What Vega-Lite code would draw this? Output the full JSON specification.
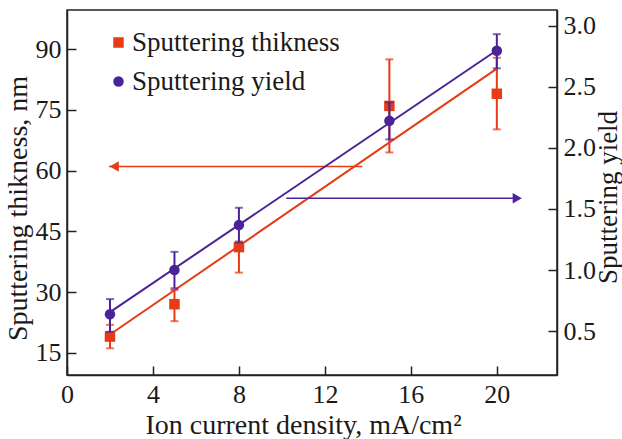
{
  "$schema": "https://vega.github.io/schema/vega-lite/v6.json",
  "width": 490,
  "height": 365,
  "autosize": {"type": "none"},
  "padding": {"left": 67, "top": 10, "right": 65, "bottom": 64},
  "background": "white",
  "datasets": {
    "pts": [
      {"x": 2, "thick": 19.0, "thick_lo": 16.1, "thick_hi": 21.9, "yield": 0.637, "yield_lo": 0.494, "yield_hi": 0.762},
      {"x": 5, "thick": 27.0, "thick_lo": 22.8, "thick_hi": 30.5, "yield": 1.0, "yield_lo": 0.85, "yield_hi": 1.149},
      {"x": 8, "thick": 41.1, "thick_lo": 34.8, "thick_hi": 42.5, "yield": 1.368, "yield_lo": 1.226, "yield_hi": 1.51},
      {"x": 15, "thick": 76.0, "thick_lo": 64.5, "thick_hi": 87.5, "yield": 2.222, "yield_lo": 2.07, "yield_hi": 2.373},
      {"x": 20, "thick": 79.0, "thick_lo": 70.2, "thick_hi": 87.9, "yield": 2.796, "yield_lo": 2.652, "yield_hi": 2.932}
    ],
    "fit": [
      {"x": 2, "thick": 19.5, "yield": 0.655},
      {"x": 20, "thick": 85.2, "yield": 2.8}
    ],
    "arrows": [
      {"series": "thick", "x": 1.95, "x2": 13.74, "tip": 2.2, "y": 61.0},
      {"series": "yield", "x": 10.2, "x2": 21.0, "tip": 20.95, "y": 1.587}
    ]
  },
  "layer": [
    {
      "layer": [
        {
          "data": {"name": "fit"},
          "mark": {"type": "line", "color": "#e63b14", "strokeWidth": 2},
          "encoding": {
            "x": {"field": "x", "type": "quantitative", "title": "Ion current density, mA/cm²", "scale": {"domain": [0, 22.8], "nice": false, "zero": false}, "axis": {"values": [0, 4, 8, 12, 16, 20], "titlePadding": 4, "titleX": 236}},
            "y": {"field": "thick", "type": "quantitative", "title": "Sputtering thikness, nm", "scale": {"domain": [9.5, 99.7], "nice": false, "zero": false}, "axis": {"orient": "left", "values": [15, 30, 45, 60, 75, 90], "titlePadding": 3, "titleY": 198}}
          }
        },
        {
          "data": {"name": "pts"},
          "mark": {"type": "errorbar", "color": "#e63b14", "thickness": 2, "ticks": {"size": 8, "thickness": 2}},
          "encoding": {
            "x": {"field": "x", "type": "quantitative", "title": "Ion current density, mA/cm²"},
            "y": {"field": "thick_lo", "type": "quantitative", "title": "Sputtering thikness, nm"},
            "y2": {"field": "thick_hi"}
          }
        },
        {
          "data": {"name": "arrows"},
          "transform": [{"filter": "datum.series === 'thick'"}],
          "mark": {"type": "rule", "color": "#e63b14", "strokeWidth": 1.5},
          "encoding": {
            "x": {"field": "x", "type": "quantitative", "title": "Ion current density, mA/cm²"},
            "x2": {"field": "x2"},
            "y": {"field": "y", "type": "quantitative", "title": "Sputtering thikness, nm"}
          }
        },
        {
          "data": {"name": "arrows"},
          "transform": [{"filter": "datum.series === 'thick'"}],
          "mark": {"type": "point", "shape": "triangle-left", "filled": true, "color": "#e63b14", "opacity": 1, "size": 110},
          "encoding": {
            "x": {"field": "tip", "type": "quantitative", "title": "Ion current density, mA/cm²"},
            "y": {"field": "y", "type": "quantitative", "title": "Sputtering thikness, nm"}
          }
        },
        {
          "data": {"name": "pts"},
          "mark": {"type": "point", "filled": true, "opacity": 1, "size": 110},
          "encoding": {
            "x": {"field": "x", "type": "quantitative", "title": "Ion current density, mA/cm²"},
            "y": {"field": "thick", "type": "quantitative", "title": "Sputtering thikness, nm"},
            "color": {"datum": "Sputtering thikness", "scale": {"domain": ["Sputtering thikness", "Sputtering yield"], "range": ["#e63b14", "#4a2399"]}, "legend": {"title": null}},
            "shape": {"datum": "Sputtering thikness", "scale": {"domain": ["Sputtering thikness", "Sputtering yield"], "range": ["square", "circle"]}, "legend": {"title": null}}
          }
        }
      ]
    },
    {
      "layer": [
        {
          "data": {"name": "fit"},
          "mark": {"type": "line", "color": "#4a2399", "strokeWidth": 2},
          "encoding": {
            "x": {"field": "x", "type": "quantitative", "title": "Ion current density, mA/cm²"},
            "y": {"field": "yield", "type": "quantitative", "title": "Sputtering yield", "scale": {"domain": [0.14, 3.13], "nice": false, "zero": false}, "axis": {"orient": "right", "values": [0.5, 1.0, 1.5, 2.0, 2.5, 3.0], "format": ".1f", "titlePadding": 0, "titleAngle": 270, "titleBaseline": "top", "titleFontSize": 27, "titleY": 187}}
          }
        },
        {
          "data": {"name": "pts"},
          "mark": {"type": "errorbar", "color": "#4a2399", "thickness": 2, "ticks": {"size": 8, "thickness": 2}},
          "encoding": {
            "x": {"field": "x", "type": "quantitative", "title": "Ion current density, mA/cm²"},
            "y": {"field": "yield_lo", "type": "quantitative", "title": "Sputtering yield"},
            "y2": {"field": "yield_hi"}
          }
        },
        {
          "data": {"name": "arrows"},
          "transform": [{"filter": "datum.series === 'yield'"}],
          "mark": {"type": "rule", "color": "#4a2399", "strokeWidth": 1.5},
          "encoding": {
            "x": {"field": "x", "type": "quantitative", "title": "Ion current density, mA/cm²"},
            "x2": {"field": "x2"},
            "y": {"field": "y", "type": "quantitative", "title": "Sputtering yield"}
          }
        },
        {
          "data": {"name": "arrows"},
          "transform": [{"filter": "datum.series === 'yield'"}],
          "mark": {"type": "point", "shape": "triangle-right", "filled": true, "color": "#4a2399", "opacity": 1, "size": 110},
          "encoding": {
            "x": {"field": "tip", "type": "quantitative", "title": "Ion current density, mA/cm²"},
            "y": {"field": "y", "type": "quantitative", "title": "Sputtering yield"}
          }
        },
        {
          "data": {"name": "pts"},
          "mark": {"type": "point", "filled": true, "opacity": 1, "size": 110},
          "encoding": {
            "x": {"field": "x", "type": "quantitative", "title": "Ion current density, mA/cm²"},
            "y": {"field": "yield", "type": "quantitative", "title": "Sputtering yield"},
            "color": {"datum": "Sputtering yield", "legend": {"title": null}},
            "shape": {"datum": "Sputtering yield", "legend": {"title": null}}
          }
        }
      ]
    }
  ],
  "resolve": {"scale": {"y": "independent"}},
  "config": {
    "font": "Liberation Serif",
    "view": {"stroke": "#222222", "strokeWidth": 1.5},
    "axis": {
      "labelFont": "Liberation Serif",
      "labelFontSize": 26,
      "labelColor": "#1a1a1a",
      "labelFlush": false,
      "titleFont": "Liberation Serif",
      "titleFontSize": 28,
      "titleFontWeight": "normal",
      "titleColor": "#1a1a1a",
      "domainColor": "#222222",
      "domainWidth": 1.5,
      "tickColor": "#222222",
      "tickWidth": 1.5,
      "tickSize": -9,
      "labelPadding": 15,
      "grid": false
    },
    "legend": {
      "orient": "none",
      "legendX": 38,
      "legendY": 19,
      "padding": 0,
      "labelFont": "Liberation Serif",
      "labelFontSize": 27,
      "labelColor": "#1a1a1a",
      "symbolSize": 110,
      "symbolStrokeWidth": 0,
      "labelOffset": 0,
      "rowPadding": 11,
      "labelLimit": 400
    }
  }
}
